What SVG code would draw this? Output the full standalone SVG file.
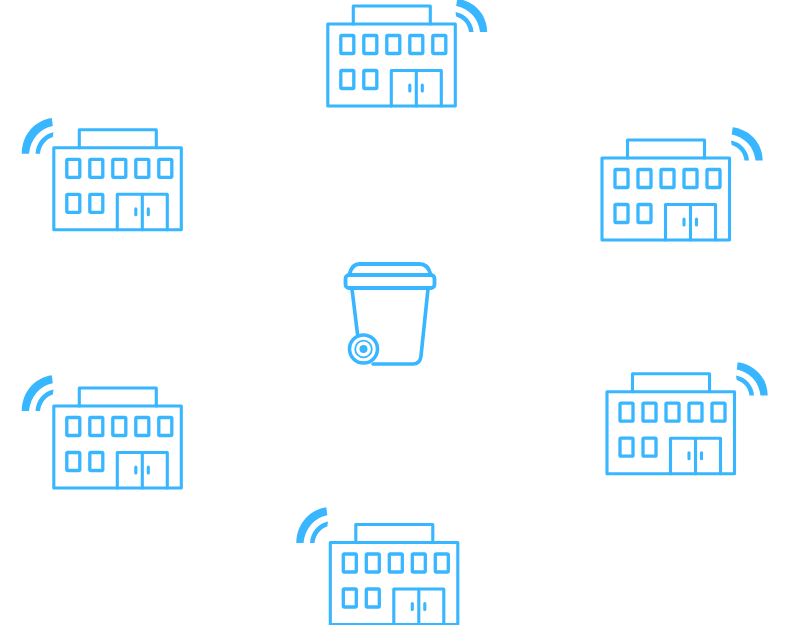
<svg xmlns="http://www.w3.org/2000/svg" width="785" height="625" viewBox="0 0 785 625">
<style>
.l{fill:none;stroke:#38b6ff;stroke-width:3.100;stroke-linejoin:round;stroke-linecap:round}
.w{fill:none;stroke:#38b6ff;stroke-width:3.300;stroke-linejoin:round}
.a{fill:#38b6ff}
</style>
<defs>
<g id="b">
<rect class="l" x="0" y="0" width="127.500" height="82"/>
<path class="l" d="M25.500 0V-18H102.500V0"/>
<rect class="w" x="13" y="11.500" width="13" height="18" rx="1"/>
<rect class="w" x="36" y="11.500" width="13" height="18" rx="1"/>
<rect class="w" x="59" y="11.500" width="13" height="18" rx="1"/>
<rect class="w" x="82" y="11.500" width="13" height="18" rx="1"/>
<rect class="w" x="105" y="11.500" width="13" height="18" rx="1"/>
<rect class="w" x="13" y="46.500" width="13" height="18" rx="1"/>
<rect class="w" x="36" y="46.500" width="13" height="18" rx="1"/>
<path class="l" d="M63.500 82V46.500H113.500V82M88.500 46.500V82"/>
<path class="l" d="M82 61V67M94.500 61V67"/>
</g>
<g id="wf">
<path class="a" d="M1.200 -33.300C18 -31 31 -18 31.200 0H24C22.500 -14 13 -23.500 0.200 -26Z"/>
<path class="a" d="M-0.500 -20C9 -18.500 17 -10 17.500 0H13C12 -8 7 -13.500 0.200 -15.500Z"/>
</g>
</defs>
<g id="connectors"></g>
<g id="building-top"><use href="#b" x="327.800" y="24"/><use href="#wf" transform="translate(456,32)"/></g>
<g id="building-right"><use href="#b" x="602" y="158"/><use href="#wf" transform="translate(731.500,160.500)"/></g>
<g id="building-lower-right"><use href="#b" x="607" y="391.700"/><use href="#wf" transform="translate(736.500,395.500)"/></g>
<g id="building-left"><use href="#b" x="53.800" y="147.800"/><use href="#wf" transform="translate(53,153.700) scale(-1,1.070)"/></g>
<g id="building-lower-left"><use href="#b" x="53.800" y="406"/><use href="#wf" transform="translate(53,411) scale(-1,1.070)"/></g>
<g id="building-bottom"><use href="#b" x="330.300" y="542.500"/><use href="#wf" transform="translate(327.500,543) scale(-1,1.070)"/></g>
<g id="bin" fill="none" stroke="#38b6ff" stroke-linejoin="round" stroke-linecap="round">
<rect x="345.500" y="275" width="89" height="13" rx="3.500" stroke-width="3.800"/>
<path stroke-width="3.800" d="M349.500 274C351 268 354 264 359.500 264H419.500C425 264 429 268 430.500 274"/>
<path stroke-width="3.600" d="M352 289L357.500 334M428 289L421 356C420.500 361 417.500 364 413 364H373"/>
<circle cx="363.500" cy="349" r="14" fill="#fff" stroke-width="3.500"/>
<circle cx="363.500" cy="349" r="8.300" stroke-width="1.800"/>
<circle cx="363.500" cy="349" r="4" fill="#38b6ff" stroke="none"/>
</g>
</svg>
